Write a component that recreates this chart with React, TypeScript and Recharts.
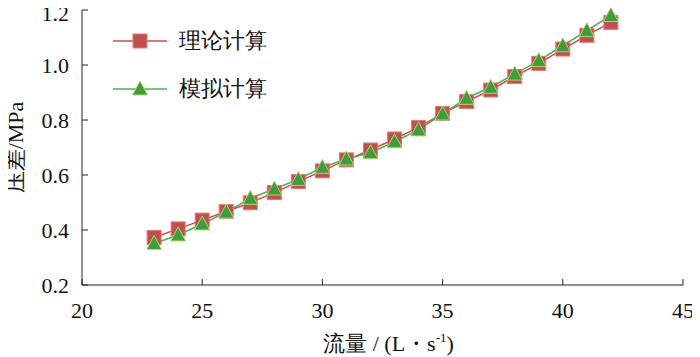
import { LineChart, Line, XAxis, YAxis } from 'recharts'

const flow = [23, 24, 25, 26, 27, 28, 29, 30, 31, 32, 33, 34, 35, 36, 37, 38, 39, 40, 41, 42]
const theory = [0.373, 0.404, 0.436, 0.467, 0.499, 0.536, 0.576, 0.615, 0.655, 0.691, 0.731, 0.773, 0.824, 0.867, 0.909, 0.958, 1.006, 1.058, 1.108, 1.155]
const simulated = [0.351, 0.382, 0.422, 0.465, 0.515, 0.549, 0.584, 0.628, 0.658, 0.681, 0.721, 0.764, 0.822, 0.879, 0.919, 0.967, 1.016, 1.07, 1.125, 1.18]
const xTicks = [20, 25, 30, 35, 40, 45]
const yTicks = [0.2, 0.4, 0.6, 0.8, 1.0, 1.2]
const seriesNames = ['理论计算', '模拟计算']

const data = flow.map((q, i) => ({ q, theory: theory[i], simulated: simulated[i] }))

const FONT = 'Liberation Serif, DejaVu Serif, serif'
const RED_LINE = '#d24a4a'
const RED_FILL = '#c0504d'
const GREEN_LINE = '#4cb050'
const GREEN_FILL = '#3c9e3c'

const Square = (props: any) => {
  const { cx, cy } = props
  if (cx == null || cy == null) return null
  return <rect x={cx - 7} y={cy - 7} width={14} height={14} fill={RED_FILL} stroke="#e07a78" strokeWidth={1} />
}

const Triangle = (props: any) => {
  const { cx, cy } = props
  if (cx == null || cy == null) return null
  return <polygon points={`${cx},${cy - 8} ${cx + 7.5},${cy + 6} ${cx - 7.5},${cy + 6}`} fill={GREEN_FILL} stroke="#b9d36a" strokeWidth={1} />
}

const LegendBox = () => (
  <div style={{ position: 'absolute', left: 113, top: 28, fontFamily: FONT, fontSize: 22, color: '#111' }}>
    {seriesNames.map((name, i) => (
      <div key={name} style={{ display: 'flex', alignItems: 'center', height: 26, marginBottom: i === 0 ? 22 : 0 }}>
        <svg width={54} height={20}>
          <line x1={0} y1={10} x2={54} y2={10} stroke={i === 0 ? RED_LINE : GREEN_LINE} strokeWidth={1.5} />
          {i === 0 ? (
            <rect x={20} y={3} width={14} height={14} fill={RED_FILL} stroke="#e07a78" />
          ) : (
            <polygon points="27,2 34.5,16 19.5,16" fill={GREEN_FILL} stroke="#b9d36a" />
          )}
        </svg>
        <span style={{ marginLeft: 12 }}>{name}</span>
      </div>
    ))}
  </div>
)

const YLabel = (props: any) => {
  const { viewBox } = props
  const cy = viewBox.y + viewBox.height / 2
  const x = 15
  return (
    <text x={x} y={cy} transform={`rotate(-90, ${x}, ${cy})`} textAnchor="middle" dominantBaseline="central" style={{ fontFamily: FONT, fontSize: 22 }} fill="#111">
      压差/MPa
    </text>
  )
}

const XLabel = (props: any) => {
  const { viewBox } = props
  const cx = viewBox.x + viewBox.width / 2 + 6
  return (
    <text x={cx} y={351} textAnchor="middle" style={{ fontFamily: FONT, fontSize: 22 }} fill="#111">
      流量 / (L・s<tspan dy={-9} fontSize={13}>-1</tspan><tspan dy={9}>)</tspan>
    </text>
  )
}

export default function App() {
  return (
    <div style={{ position: 'relative', width: 700, height: 357, margin: '-8px 0 0 -8px', fontFamily: FONT }}>
      <LineChart width={700} height={357} data={data} margin={{ top: 10, right: 17, left: 0, bottom: 0 }} style={{ fontFamily: FONT }}>
        <XAxis
          dataKey="q"
          type="number"
          domain={[20, 45]}
          ticks={xTicks}
          height={72}
          tickSize={-6}
          tickMargin={23}
          stroke="#222"
          tick={{ fill: '#111', fontSize: 22, style: { fontFamily: FONT } }}
          label={<XLabel />}
        />
        <YAxis
          type="number"
          domain={[0.2, 1.2]}
          ticks={yTicks}
          width={82}
          tickSize={-6}
          tickMargin={19}
          stroke="#222"
          tickFormatter={(v: number) => v.toFixed(1)}
          tick={{ fill: '#111', fontSize: 22, style: { fontFamily: FONT } }}
          label={<YLabel />}
        />
        <Line dataKey="theory" name={seriesNames[0]} stroke={RED_LINE} strokeWidth={1.5} dot={<Square />} activeDot={false} isAnimationActive={false} />
        <Line dataKey="simulated" name={seriesNames[1]} stroke={GREEN_LINE} strokeWidth={1.5} dot={<Triangle />} activeDot={false} isAnimationActive={false} />
      </LineChart>
      <LegendBox />
    </div>
  )
}
